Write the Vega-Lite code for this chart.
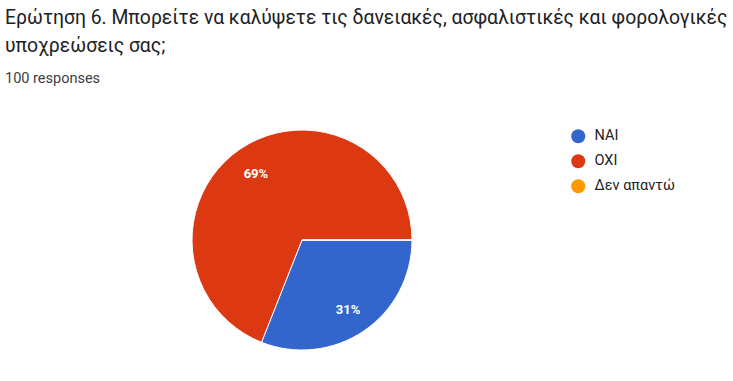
{
  "$schema": "https://vega.github.io/schema/vega-lite/v6.json",
  "autosize": "none",
  "width": 604,
  "height": 280,
  "padding": {"left": 0, "top": 100, "right": 129, "bottom": 1},
  "background": "white",
  "config": {"view": {"stroke": null}, "font": "Roboto"},
  "title": {
    "text": ["Ερώτηση 6. Μπορείτε να καλύψετε τις δανειακές, ασφαλιστικές και φορολογικές", "υποχρεώσεις σας;"],
    "subtitle": "100 responses",
    "anchor": "start",
    "frame": "group",
    "dx": 5,
    "offset": 15,
    "font": "Roboto",
    "fontSize": 19.35,
    "fontWeight": "normal",
    "lineHeight": 28,
    "color": "#202124",
    "subtitleFont": "Roboto",
    "subtitleFontSize": 14.5,
    "subtitleColor": "#3c4043",
    "subtitlePadding": 15
  },
  "data": {
    "values": [
      {"answer": "ΝΑΙ", "count": 31, "label": "31%", "rank": 1},
      {"answer": "ΟΧΙ", "count": 69, "label": "69%", "rank": 2},
      {"answer": "Δεν απαντώ", "count": 0, "label": "", "rank": 3}
    ]
  },
  "encoding": {
    "theta": {"field": "count", "type": "quantitative", "stack": true, "scale": {"range": [1.5707963, 7.8539816]}},
    "order": {"field": "rank", "type": "quantitative"}
  },
  "layer": [
    {
      "mark": {"type": "arc", "outerRadius": 110, "stroke": "#ffffff", "strokeWidth": 1},
      "encoding": {
        "color": {
          "field": "answer",
          "type": "nominal",
          "scale": {"domain": ["ΝΑΙ", "ΟΧΙ", "Δεν απαντώ"], "range": ["#3366cc", "#dc3912", "#ff9900"]},
          "legend": {
            "title": null,
            "orient": "none",
            "legendX": 571,
            "legendY": 29,
            "padding": 0,
            "symbolType": "circle",
            "symbolSize": 196,
            "symbolStrokeWidth": 0,
            "labelFont": "Roboto",
            "labelFontSize": 14.5,
            "labelColor": "#222222",
            "labelOffset": 9,
            "rowPadding": 9
          }
        }
      }
    },
    {
      "mark": {"type": "text", "radius": 82, "dy": 2, "color": "white", "fontWeight": "bold", "fontSize": 13, "font": "Roboto"},
      "encoding": {"text": {"field": "label", "type": "nominal"}}
    }
  ]
}
